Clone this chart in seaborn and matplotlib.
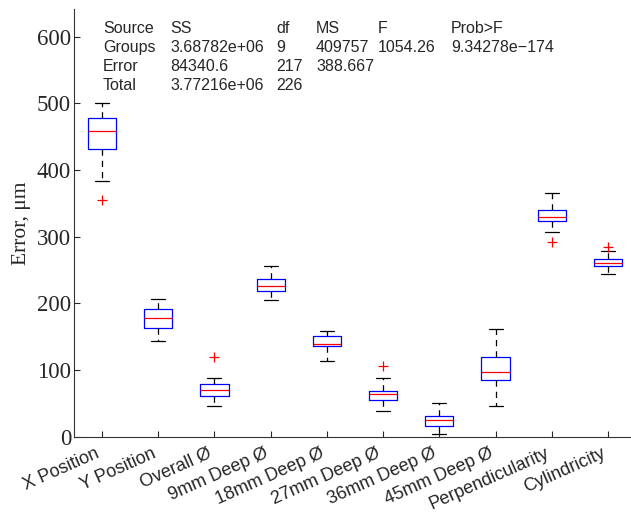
import pandas as pd
import matplotlib
matplotlib.use("Agg")
import matplotlib.pyplot as plt
import seaborn as sns

# --------------------------
# Box statistics (µm)
# --------------------------
features = ["X Position", "Y Position", "Overall Ø", "9mm Deep Ø", "18mm Deep Ø",
            "27mm Deep Ø", "36mm Deep Ø", "45mm Deep Ø", "Perpendicularity", "Cylindricity"]
lower_whisker = [384, 143.5, 46, 205.5, 113.5, 38, 4, 45.5, 307.5, 244.5]
q1 = [431, 163.5, 61, 218.5, 135.5, 54.5, 16, 85, 323, 255.5]
median = [459, 178.5, 70.5, 225.5, 139.5, 63.5, 24.5, 96.5, 329, 261]
q3 = [478, 192, 79.5, 236.5, 151.5, 68, 31, 119, 340.5, 266]
upper_whisker = [500, 206.5, 88.5, 256, 159, 87.5, 50, 161.5, 365.5, 278]
outlier_low = [355, None, None, None, None, None, None, None, 291.5, None]
outlier_high = [None, None, 119, None, None, 105.5, None, None, None, 285]

# ANOVA table printed on the plot
anova_rows = [
    ["Source", "SS", "df", "MS", "F", "Prob>F"],
    ["Groups", "3.68782e+06", "9", "409757", "1054.26", "9.34278e\u2212174"],
    ["Error", "84340.6", "217", "388.667", "", ""],
    ["Total", "3.77216e+06", "226", "", "", ""],
]


def build_samples():
    """Rebuild a small sample per group whose quartiles/whiskers match the read values"""
    rows = []
    for i, name in enumerate(features):
        lo, a, m, b, hi = lower_whisker[i], q1[i], median[i], q3[i], upper_whisker[i]
        if outlier_low[i] is not None:
            vals = [outlier_low[i], lo, a, a, m, b, b, hi, hi]
        elif outlier_high[i] is not None:
            vals = [lo, lo, a, a, m, b, b, hi, outlier_high[i]]
        else:
            vals = [lo, a, m, b, hi]
        rows += [(name, v) for v in vals]
    return pd.DataFrame(rows, columns=["feature", "error"])


df = build_samples()

sns.set_style("ticks", {"xtick.direction": "in", "ytick.direction": "in"})
fig = plt.figure(figsize=(6.31, 5.16), dpi=100)
W, H = 631, 516
ax = fig.add_axes([73.9 / W, 79.3 / H, 562.2 / W, 427.4 / H])

sns.boxplot(data=df, x="feature", y="error", order=features, ax=ax,
            width=0.5, whis=1.5, fill=False, color="blue", linewidth=0.9,
            boxprops=dict(color="blue"),
            medianprops=dict(color="red"),
            whiskerprops=dict(color="black", linestyle=(0, (5, 4))),
            capprops=dict(color="black"),
            flierprops=dict(marker="+", markeredgecolor="red", markersize=7,
                            markeredgewidth=0.9))

ax.set_xlim(-0.5, 9.5)
ax.set_ylim(0, 641)
ax.set_yticks(range(0, 700, 100))
ax.set_xlabel("")
ax.set_ylabel("Error, \u03bcm", family="Liberation Serif", fontsize=15.5, labelpad=4.5)
for lab in ax.get_yticklabels():
    lab.set_family("Liberation Serif")
    lab.set_fontsize(16.5)
ax.set_xticks(range(len(features)))
ax.set_xticklabels(features, rotation=24, ha="right", va="top",
                   family="Liberation Sans", fontsize=13)
ax.tick_params(axis="y", length=4, width=0.8, pad=2)
ax.tick_params(axis="x", length=4, width=0.8, pad=6)
sns.despine(ax=ax)
for s in ["left", "bottom"]:
    ax.spines[s].set_linewidth(0.8)
    ax.spines[s].set_color("#333333")

# ANOVA table text
col_x = [103, 170, 276, 316, 378, 451]
row_y = [33, 52, 71, 90]
for r, row in enumerate(anova_rows):
    for c, txt in enumerate(row):
        if txt:
            fig.text(col_x[c] / W, 1 - row_y[r] / H, txt, family="Liberation Sans",
                     fontsize=11.5, ha="left", va="baseline")

fig.savefig("out.png", dpi=100)
